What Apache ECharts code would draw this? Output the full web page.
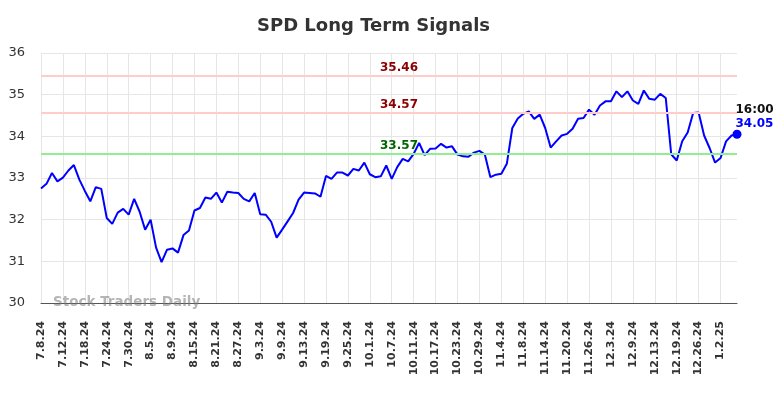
<!DOCTYPE html>
<html>
<head>
<meta charset="utf-8">
<script src="https://cdn.jsdelivr.net/npm/echarts@6/dist/echarts.min.js"></script>
<style>
  html, body { margin: 0; padding: 0; background: #fff; }
  #chart { width: 784px; height: 398px; }
</style>
</head>
<body>
<div id="chart"></div>
<script>
// trading days shown on the x axis
var dates = [
    '7.8.24','7.9.24','7.10.24','7.11.24','7.12.24','7.15.24','7.16.24','7.17.24','7.18.24','7.19.24',
    '7.22.24','7.23.24','7.24.24','7.25.24','7.26.24','7.29.24','7.30.24','7.31.24',
    '8.1.24','8.2.24','8.5.24','8.6.24','8.7.24','8.8.24','8.9.24','8.12.24','8.13.24','8.14.24',
    '8.15.24','8.16.24','8.19.24','8.20.24','8.21.24','8.22.24','8.23.24','8.26.24','8.27.24','8.28.24',
    '8.29.24','8.30.24',
    '9.3.24','9.4.24','9.5.24','9.6.24','9.9.24','9.10.24','9.11.24','9.12.24','9.13.24','9.16.24',
    '9.17.24','9.18.24','9.19.24','9.20.24','9.23.24','9.24.24','9.25.24','9.26.24','9.27.24','9.30.24',
    '10.1.24','10.2.24','10.3.24','10.4.24','10.7.24','10.8.24','10.9.24','10.10.24','10.11.24','10.14.24',
    '10.15.24','10.16.24','10.17.24','10.18.24','10.21.24','10.22.24','10.23.24','10.24.24','10.25.24',
    '10.28.24','10.29.24','10.30.24','10.31.24',
    '11.1.24','11.4.24','11.5.24','11.6.24','11.7.24','11.8.24','11.11.24','11.12.24','11.13.24','11.14.24',
    '11.15.24','11.18.24','11.19.24','11.20.24','11.21.24','11.22.24','11.25.24','11.26.24','11.27.24','11.29.24',
    '12.2.24','12.3.24','12.4.24','12.5.24','12.6.24','12.9.24','12.10.24','12.11.24','12.12.24','12.13.24',
    '12.16.24','12.17.24','12.18.24','12.19.24','12.20.24','12.23.24','12.24.24','12.26.24','12.27.24',
    '12.30.24','12.31.24',
    '1.2.25','1.3.25','1.6.25','1.7.25'
];

// closing prices
var prices = [
    32.75, 32.86, 33.12, 32.92, 33.01, 33.18, 33.31, 32.96, 32.69, 32.44,
    32.78, 32.74, 32.04, 31.90, 32.17, 32.26, 32.12, 32.50, 32.19, 31.76,
    32.00, 31.33, 30.98, 31.28, 31.31, 31.21, 31.63, 31.74, 32.22, 32.28,
    32.53, 32.50, 32.65, 32.41, 32.67, 32.65, 32.64, 32.50, 32.44, 32.64,
    32.13, 32.12, 31.95, 31.57, 31.76, 31.96, 32.16, 32.48, 32.65, 32.64,
    32.63, 32.55, 33.05, 32.98, 33.13, 33.13, 33.06, 33.22, 33.18, 33.37,
    33.09, 33.02, 33.04, 33.30, 32.98, 33.26, 33.46, 33.40, 33.58, 33.84,
    33.55, 33.70, 33.71, 33.82, 33.73, 33.76, 33.56, 33.52, 33.51, 33.61,
    33.65, 33.56, 33.02, 33.08, 33.10, 33.34, 34.20, 34.43, 34.54, 34.60,
    34.42, 34.52, 34.20, 33.73, 33.88, 34.02, 34.06, 34.18, 34.42, 34.44,
    34.64, 34.52, 34.74, 34.84, 34.84, 35.08, 34.94, 35.08, 34.86, 34.78,
    35.10, 34.90, 34.88, 35.02, 34.92, 33.57, 33.42, 33.88, 34.09, 34.56,
    34.57, 34.02, 33.72, 33.37, 33.48, 33.88, 34.02, 34.05
];

// signal levels
var resistHigh = 35.46;
var resistLow = 34.57;
var support = 33.57;
var lastTime = '16:00';

var chart = echarts.init(document.getElementById('chart'));
var last = prices.length - 1;

var option = {
    animation: false,
    title: [{
        text: 'SPD Long Term Signals',
        left: 257,
        top: 17,
        padding: 0,
        textStyle: { fontFamily: 'DejaVu Sans', fontSize: 18, fontWeight: 'bold', color: '#333' }
    }, {
        // watermark
        text: 'Stock Traders Daily',
        left: 53,
        top: 295,
        padding: 0,
        textStyle: { fontFamily: 'DejaVu Sans', fontSize: 13.5, fontWeight: 'bold', color: 'rgba(120,120,120,0.55)' }
    }],
    grid: { left: 41, right: 47, top: 53, bottom: 95 },
    xAxis: {
        type: 'category',
        data: dates,
        boundaryGap: false,
        axisLine: { lineStyle: { color: '#555', width: 1 } },
        axisTick: { show: false },
        axisLabel: {
            interval: 3,
            rotate: 90,
            margin: 18,
            fontFamily: 'DejaVu Sans',
            fontSize: 11,
            fontWeight: 'bold',
            color: '#333'
        },
        splitLine: { show: true, interval: 3, lineStyle: { color: '#e6e6e6' } }
    },
    yAxis: {
        type: 'value',
        min: 30,
        max: 36,
        interval: 1,
        axisLine: { show: false },
        axisTick: { show: false },
        axisLabel: { margin: 16, fontFamily: 'DejaVu Sans', fontSize: 13, color: '#333' },
        splitLine: { lineStyle: { color: '#e6e6e6' } }
    },
    series: [{
        type: 'line',
        data: prices,
        showSymbol: false,
        lineStyle: { color: '#0000ff', width: 2 },
        itemStyle: { color: '#0000ff' },
        markLine: {
            silent: true,
            symbol: 'none',
            label: {
                position: 'insideMiddleTop',
                distance: 2,
                offset: [10, 0],
                fontFamily: 'DejaVu Sans',
                fontSize: 12,
                fontWeight: 'bold',
                formatter: function(p) { return p.value.toFixed(2); }
            },
            data: [
                { yAxis: resistHigh, lineStyle: { color: '#ffcccc', width: 2, type: 'solid' }, label: { color: '#8b0000' } },
                { yAxis: resistLow, lineStyle: { color: '#ffcccc', width: 2, type: 'solid' }, label: { color: '#8b0000' } },
                { yAxis: support, lineStyle: { color: '#90ee90', width: 2, type: 'solid' }, label: { color: '#006400' } }
            ]
        },
        markPoint: {
            silent: true,
            symbol: 'circle',
            symbolSize: 9,
            itemStyle: { color: '#0000ff' },
            label: {
                show: true,
                position: [3, -27],
                align: 'left',
                formatter: lastTime + '\n{v|' + prices[last].toFixed(2) + '}',
                fontFamily: 'DejaVu Sans',
                fontSize: 12,
                fontWeight: 'bold',
                color: '#111',
                lineHeight: 14,
                rich: {
                    v: { fontFamily: 'DejaVu Sans', fontSize: 12, fontWeight: 'bold', color: '#0000ff', lineHeight: 14 }
                }
            },
            data: [{ coord: [dates[last], prices[last]] }]
        }
    }]
};

chart.setOption(option);
</script>
</body>
</html>
